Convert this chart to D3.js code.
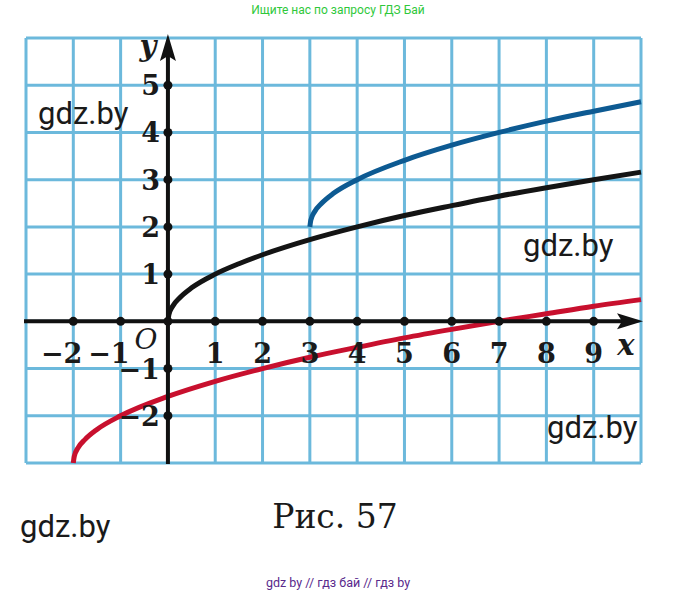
<!DOCTYPE html>
<html>
<head>
<meta charset="utf-8">
<script src="https://cdn.jsdelivr.net/npm/d3@7"></script>
<style>
  body { margin: 0; background: #fff; }
  svg { display: block; }
</style>
</head>
<body>
<div id="chart"></div>
<script>
// grid range and tick values
const xGrid = d3.range(-3, 11);
const yGrid = d3.range(-3, 7);
const xTicks = [-2, -1, 1, 2, 3, 4, 5, 6, 7, 8, 9];
const yTicks = [-2, -1, 1, 2, 3, 4, 5];

// curves
const blackCurve = [[0, 0], [0.02, 0.14], [0.1, 0.32], [0.25, 0.5], [0.5, 0.71], [1, 1], [1.5, 1.22], [2, 1.41],
  [3, 1.73], [4, 2], [5, 2.24], [6, 2.45], [7, 2.65], [8, 2.83], [9, 3], [10, 3.16]];
const blueCurve = [[3, 2], [3.02, 2.14], [3.1, 2.32], [3.25, 2.5], [3.5, 2.71], [4, 3], [5, 3.41], [6, 3.73],
  [7, 4], [8, 4.24], [9, 4.45], [10, 4.65]];
const redCurve = [[-2, -3], [-1.98, -2.86], [-1.9, -2.68], [-1.75, -2.5], [-1.5, -2.29], [-1, -2], [0, -1.59],
  [1, -1.27], [2, -1], [3, -0.76], [4, -0.55], [5, -0.35], [6, -0.17], [7, 0], [8, 0.16], [9, 0.32], [10, 0.46]];

const W = 677, H = 592;
const svg = d3.select("#chart").append("svg")
    .attr("width", W)
    .attr("height", H);

const x = d3.scaleLinear().domain([-3, 10]).range([26, 641]);
const y = d3.scaleLinear().domain([-3, 6]).range([463, 38]);

// top banner
svg.append("text")
    .attr("x", 338).attr("y", 14)
    .attr("text-anchor", "middle")
    .style("font-family", "Roboto").style("font-size", "12px")
    .style("fill", "#2fc83a")
    .text("Ищите нас по запросу ГДЗ Бай");

// grid
const grid = svg.append("g").attr("stroke", "#6cb9dc").attr("stroke-width", 3);
grid.selectAll("line.v").data(xGrid).join("line")
    .attr("x1", d => x(d)).attr("x2", d => x(d))
    .attr("y1", y(-3)).attr("y2", y(6));
grid.selectAll("line.h").data(yGrid).join("line")
    .attr("y1", d => y(d)).attr("y2", d => y(d))
    .attr("x1", x(-3)).attr("x2", x(10));

// watermarks
const marks = [[38, 124], [523, 256], [547, 438], [20, 537]];
svg.selectAll("text.wm").data(marks).join("text")
    .attr("x", d => d[0]).attr("y", d => d[1])
    .style("font-family", "Roboto").style("font-size", "31px")
    .style("fill", "#1a1a1a")
    .text("gdz.by");

// curves
const line = d3.line().x(d => x(d[0])).y(d => y(d[1])).curve(d3.curveMonotoneX);
[[redCurve, "#c8102e"], [blackCurve, "#141414"], [blueCurve, "#0d5a92"]].forEach(([data, color]) => {
  svg.append("path")
      .attr("d", line(data))
      .attr("fill", "none")
      .attr("stroke", color)
      .attr("stroke-width", 5)
      .attr("stroke-linecap", "butt");
});

// axes
svg.append("line")
    .attr("x1", 24).attr("x2", 625)
    .attr("y1", y(0)).attr("y2", y(0))
    .attr("stroke", "#111").attr("stroke-width", 4);
svg.append("path")
    .attr("d", `M${643},${y(0)} L${617},${y(0) - 8} L${622},${y(0)} L${617},${y(0) + 8} Z`)
    .attr("fill", "#111");
svg.append("line")
    .attr("x1", x(0)).attr("x2", x(0))
    .attr("y1", 464).attr("y2", 52)
    .attr("stroke", "#111").attr("stroke-width", 4);
svg.append("path")
    .attr("d", `M${x(0)},34 L${x(0) - 8},61 L${x(0)},56 L${x(0) + 8},61 Z`)
    .attr("fill", "#111");

// tick dots
svg.selectAll("circle.xd").data(xTicks.concat([0])).join("circle")
    .attr("cx", d => x(d)).attr("cy", y(0)).attr("r", 4.5).attr("fill", "#111");
svg.selectAll("circle.yd").data(yTicks).join("circle")
    .attr("cx", x(0)).attr("cy", d => y(d)).attr("r", 4.5).attr("fill", "#111");

// tick labels
const fmt = d => d < 0 ? "\u2212" + Math.abs(d) : String(d);
svg.selectAll("text.xl").data(xTicks).join("text")
    .attr("x", d => d < 0 ? x(d) + 9 : x(d))
    .attr("y", y(0) + 42)
    .attr("text-anchor", d => d < 0 ? "end" : "middle")
    .style("font-family", "DejaVu Serif").style("font-weight", "bold").style("font-size", "27px")
    .style("fill", "#1a1a1a")
    .text(fmt);
svg.selectAll("text.yl").data(yTicks).join("text")
    .attr("x", x(0) - 8)
    .attr("y", d => y(d) + 10)
    .attr("text-anchor", "end")
    .style("font-family", "DejaVu Serif").style("font-weight", "bold").style("font-size", "27px")
    .style("fill", "#1a1a1a")
    .text(fmt);

// axis names
svg.append("text")
    .attr("x", 148).attr("y", 56).attr("text-anchor", "middle")
    .style("font-family", "DejaVu Serif").style("font-style", "italic").style("font-weight", "bold")
    .style("font-size", "29px").style("fill", "#1a1a1a")
    .text("y");
svg.append("text")
    .attr("x", 626).attr("y", 355).attr("text-anchor", "middle")
    .style("font-family", "DejaVu Serif").style("font-style", "italic").style("font-weight", "bold")
    .style("font-size", "29px").style("fill", "#1a1a1a")
    .text("x");
svg.append("text")
    .attr("x", 146).attr("y", 349).attr("text-anchor", "middle")
    .style("font-family", "DejaVu Serif").style("font-style", "italic")
    .style("font-size", "28px").style("fill", "#1a1a1a")
    .text("O");

// caption
svg.append("text")
    .attr("x", 335).attr("y", 528).attr("text-anchor", "middle")
    .style("font-family", "DejaVu Serif").style("font-size", "33px")
    .style("fill", "#1a1a1a")
    .text("Рис. 57");

// bottom links
svg.append("text")
    .attr("x", 338).attr("y", 587).attr("text-anchor", "middle")
    .style("font-family", "Roboto").style("font-size", "12.5px")
    .style("fill", "#5a2a8c")
    .text("gdz by  //  гдз бай  //  гдз by");
</script>
</body>
</html>
